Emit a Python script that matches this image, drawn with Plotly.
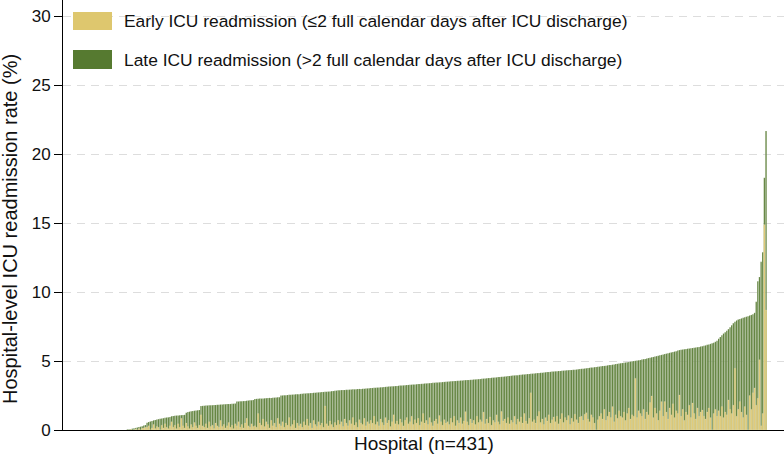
import plotly.graph_objects as go

# Hospital-level ICU readmission rate (%), hospitals sorted by total rate (n=431)
total_rate = [
    # hospitals 1-39 (no readmissions)
    0, 0, 0, 0, 0, 0, 0, 0, 0, 0, 0, 0, 0, 0, 0, 0, 0, 0, 0, 0,
    0, 0, 0, 0, 0, 0, 0, 0, 0, 0, 0, 0, 0, 0, 0, 0, 0, 0, 0,
    # 40-51
    0.05, 0.06, 0.08, 0.10, 0.12, 0.15, 0.18, 0.21, 0.24, 0.28, 0.32, 0.36,
    # 52-66
    0.53, 0.58, 0.62, 0.66, 0.70, 0.73, 0.76, 0.79, 0.82, 0.84, 0.86, 0.88, 0.90, 0.92, 0.94,
    # 67-75
    1.00, 1.02, 1.04, 1.05, 1.06, 1.07, 1.08, 1.09, 1.10,
    # 76-84
    1.25, 1.30, 1.33, 1.36, 1.38, 1.40, 1.42, 1.44, 1.45,
    # 85-106
    1.74, 1.75, 1.76, 1.77, 1.78, 1.79, 1.80, 1.80, 1.81, 1.82, 1.83, 1.84, 1.85, 1.85, 1.86,
    1.87, 1.88, 1.88, 1.89, 1.90, 1.91, 1.92,
    # 107-117
    2.06, 2.07, 2.08, 2.09, 2.10, 2.11, 2.12, 2.14, 2.15, 2.16, 2.18,
    # 118-133
    2.25, 2.26, 2.27, 2.28, 2.28, 2.29, 2.30, 2.31, 2.32, 2.33, 2.33, 2.34, 2.35, 2.36, 2.37, 2.38,
    # 134-145
    2.50, 2.51, 2.52, 2.53, 2.54, 2.55, 2.56, 2.57, 2.58, 2.59, 2.60, 2.60,
    # 146-169
    2.62, 2.63, 2.64, 2.65, 2.66, 2.67, 2.68, 2.69, 2.70, 2.71, 2.72, 2.73, 2.74, 2.75, 2.76,
    2.77, 2.78, 2.79, 2.80, 2.82, 2.83, 2.84, 2.86, 2.88,
    # 170-188
    2.89, 2.90, 2.90, 2.91, 2.92, 2.92, 2.93, 2.94, 2.95, 2.95, 2.96, 2.97, 2.98, 2.98, 2.99,
    3.00, 3.01, 3.02, 3.03,
    # 189-207
    3.04, 3.05, 3.06, 3.07, 3.08, 3.09, 3.10, 3.11, 3.12, 3.13, 3.14, 3.15, 3.16, 3.17, 3.18,
    3.19, 3.20, 3.21, 3.22,
    # 208-235
    3.23, 3.24, 3.25, 3.26, 3.27, 3.28, 3.29, 3.30, 3.31, 3.32, 3.33, 3.34, 3.35, 3.36, 3.37,
    3.38, 3.39, 3.40, 3.41, 3.42, 3.43, 3.44, 3.45, 3.46, 3.47, 3.48, 3.49, 3.50,
    # 236-256
    3.51, 3.52, 3.53, 3.54, 3.55, 3.56, 3.57, 3.58, 3.59, 3.60, 3.61, 3.62, 3.63, 3.63, 3.64,
    3.65, 3.66, 3.67, 3.68, 3.69, 3.70,
    # 257-274
    3.72, 3.73, 3.74, 3.75, 3.77, 3.78, 3.79, 3.80, 3.81, 3.82, 3.84, 3.85, 3.86, 3.87, 3.88,
    3.89, 3.91, 3.92,
    # 275-301
    3.94, 3.95, 3.96, 3.97, 3.98, 4.00, 4.01, 4.02, 4.03, 4.04, 4.06, 4.07, 4.08, 4.09, 4.10,
    4.12, 4.13, 4.14, 4.15, 4.16, 4.18, 4.19, 4.20, 4.21, 4.22, 4.24, 4.25,
    # 302-317
    4.26, 4.27, 4.28, 4.29, 4.30, 4.31, 4.32, 4.33, 4.34, 4.35, 4.36, 4.37, 4.38, 4.39, 4.40, 4.42,
    # 318-329
    4.44, 4.45, 4.47, 4.48, 4.50, 4.51, 4.53, 4.54, 4.56, 4.57, 4.59, 4.60,
    # 330-342
    4.62, 4.64, 4.65, 4.67, 4.69, 4.71, 4.72, 4.74, 4.76, 4.78, 4.80, 4.82, 4.84,
    # 343-354
    4.86, 4.88, 4.90, 4.92, 4.94, 4.96, 4.98, 5.00, 5.02, 5.04, 5.06, 5.08,
    # 355-367
    5.11, 5.14, 5.16, 5.19, 5.22, 5.25, 5.27, 5.30, 5.33, 5.36, 5.39, 5.42, 5.45,
    # 368-378
    5.48, 5.51, 5.54, 5.57, 5.60, 5.63, 5.66, 5.69, 5.72, 5.76, 5.80,
    # 379-391
    5.82, 5.84, 5.86, 5.88, 5.90, 5.91, 5.93, 5.95, 5.97, 5.99, 6.01, 6.03, 6.05,
    # 392-401
    6.08, 6.11, 6.14, 6.18, 6.21, 6.25, 6.29, 6.33, 6.40, 6.48,
    # 402-409
    6.62, 6.75, 6.88, 7.00, 7.10, 7.20, 7.32, 7.45,
    # 410-421
    7.60, 7.75, 7.86, 7.95, 8.02, 8.06, 8.10, 8.14, 8.18, 8.22, 8.26, 8.30,
    # 422-431
    8.35, 8.40, 8.50, 9.30, 10.80, 11.10, 12.20, 12.90, 18.30, 21.70,
]

early_rate = [
    # hospitals 1-39
    0, 0, 0, 0, 0, 0, 0, 0, 0, 0, 0, 0, 0, 0, 0, 0, 0, 0, 0, 0,
    0, 0, 0, 0, 0, 0, 0, 0, 0, 0, 0, 0, 0, 0, 0, 0, 0, 0, 0,
    # 40-51
    0, 0, 0.05, 0, 0, 0.08, 0, 0.10, 0, 0.12, 0.15, 0.20,
    # 52-66
    0.20, 0.30, 0, 0.15, 0.40, 0.10, 0.25, 0.20, 0, 0.35, 0.15, 0.45, 0.20, 0.10, 0.30,
    # 67-75
    0.60, 0.20, 0.35, 0.10, 0.45, 0.20, 0.85, 0.30, 0.15,
    # 76-84
    0.50, 0.25, 0.10, 0.40, 0.20, 0.55, 0.30, 0.15, 0.35,
    # 85-106
    1.10, 0.30, 0.20, 0.45, 0.15, 0.60, 0.25, 0.35, 0.10, 0.50, 0.30, 0.20, 0.70, 0.25, 0.40,
    0.15, 0.30, 0.55, 0.20, 0.35, 0.10, 0.45,
    # 107-117
    0.30, 0.60, 0.20, 0.40, 0.15, 0.50, 0.85, 0.30, 0.20, 0.45, 0.25,
    # 118-133
    0.30, 0.20, 1.20, 0.50, 0.35, 0.80, 0.25, 0.60, 0.40, 0.15, 0.70, 0.30, 0.50, 0.20, 0.85, 0.45,
    # 134-145
    0.30, 0.60, 0.20, 0.50, 0.35, 0.90, 0.25, 0.40, 0.70, 0.15, 0.50, 0.30,
    # 146-169
    0.45, 0.20, 0.60, 0.35, 0.80, 0.30, 0.50, 0.15, 0.70, 0.40, 0.25, 0.60, 0.35, 0.50, 0.20,
    1.75, 0.45, 0.30, 0.65, 0.40, 0.20, 0.55, 0.35, 0.70,
    # 170-188
    0.40, 0.60, 0.25, 0.80, 0.50, 0.30, 0.70, 0.45, 0.90, 0.35, 0.55, 0.20, 0.75, 0.50, 0.40,
    0.85, 0.30, 0.60, 0.45,
    # 189-207
    0.70, 0.50, 1.00, 0.40, 0.60, 0.30, 0.80, 0.55, 0.35, 0.90, 0.50, 0.70, 0.25, 0.60, 1.10,
    0.45, 0.65, 0.40, 0.80,
    # 208-235
    0.55, 0.30, 0.70, 0.90, 0.45, 0.60, 1.00, 0.40, 0.75, 0.50, 0.85, 0.35, 0.60, 1.20, 0.50,
    0.70, 0.40, 0.90, 0.55, 0.30, 0.65, 0.80, 0.45, 1.05, 0.60, 0.35, 0.75, 0.50,
    # 236-256
    0.60, 0.40, 0.85, 0.55, 1.00, 0.30, 0.70, 0.50, 0.90, 0.45, 0.65, 1.33, 0.60, 0.35, 0.80,
    0.50, 0.70, 0.40, 1.00, 0.55, 0.75,
    # 257-274
    0.60, 1.30, 0.45, 0.80, 0.50, 0.95, 0.35, 0.70, 0.55, 1.10, 0.60, 0.40, 1.35, 0.65, 0.80,
    0.50, 0.90, 0.45,
    # 275-301
    0.70, 0.55, 1.00, 0.40, 0.80, 0.60, 0.95, 0.50, 1.20, 0.65, 0.45, 0.85, 2.70, 0.60, 0.75,
    0.50, 1.00, 1.35, 0.55, 0.80, 0.40, 0.90, 0.65, 1.10, 0.50, 0.75, 0.95,
    # 302-317
    0.60, 1.00, 0.45, 0.80, 1.20, 0.55, 0.90, 0.70, 1.05, 0.40, 0.85, 0.60, 1.15, 0.75, 0.50, 0.95,
    # 318-329
    1.00, 0.70, 1.15, 1.25, 0.80, 0.60, 1.10, 0.90, 0.50, 0.00, 0.75, 1.00,
    # 330-342
    1.20, 0.80, 1.50, 0.70, 1.00, 1.30, 0.90, 1.70, 0.60, 1.10, 0.85, 1.40, 1.00,
    # 343-354
    0.90, 1.30, 0.70, 1.20, 1.60, 0.80, 1.10, 1.00, 3.75, 0.90, 1.40, 1.20,
    # 355-367
    1.00, 1.50, 0.80, 1.30, 1.10, 2.00, 2.47, 0.90, 1.60, 1.20, 0.70, 1.40, 2.06,
    # 368-378
    1.00, 2.06, 1.30, 0.80, 1.60, 1.10, 1.90, 0.90, 1.40, 1.20, 2.54,
    # 379-391
    1.00, 1.50, 0.70, 1.30, 1.10, 1.80, 0.90, 1.96, 1.20, 0.80, 1.60, 1.00, 1.30,
    # 392-401
    1.45, 1.00, 0.80, 1.30, 1.60, 0.90, 0.00, 1.20, 1.50, 1.00,
    # 402-409
    1.40, 1.00, 1.70, 0.90, 1.30, 1.10, 2.18, 1.50,
    # 410-421
    1.20, 1.80, 4.48, 1.00, 1.50, 2.06, 1.30, 0.90, 1.70, 1.10, 0.00, 2.50,
    # 422-431
    1.50, 2.70, 3.05, 1.80, 2.30, 5.10, 0.30, 1.20, 14.90, 8.70,
]

hospital = list(range(1, len(total_rate) + 1))

early_label = "Early ICU readmission (\u22642 full calendar days after ICU discharge)"
late_label = "Late ICU readmission (>2 full calendar days after ICU discharge)"
x_title = "Hospital (n=431)"
y_title = "Hospital-level ICU readmission rate (%)"
y_ticks = [0, 5, 10, 15, 20, 25, 30]

YELLOW = "#DEC76E"
GREEN = "#567A30"
FONT = "Liberation Sans, Arial, sans-serif"
BAR_EDGE = dict(width=0.3, color="rgba(255,255,255,0.55)")

fig = go.Figure()
fig.add_trace(go.Bar(x=hospital, y=total_rate, name=late_label,
                     marker=dict(color=GREEN, line=BAR_EDGE), showlegend=False))
fig.add_trace(go.Bar(x=hospital, y=early_rate, name=early_label,
                     marker=dict(color=YELLOW, line=BAR_EDGE), showlegend=False))

L, R, T, B = 63, 0, 0, 24
W, H = 784, 454
pw, ph = W - L - R, H - T - B

def px(xp):
    return (xp - L) / pw

def py(yp):
    return (H - B - yp) / ph

shapes = []
annotations = []
for (y0, y1, col, label) in [(12, 30, YELLOW, early_label), (50, 69, GREEN, late_label)]:
    shapes.append(dict(type="rect", xref="paper", yref="paper",
                       x0=px(73), x1=px(112), y0=py(y1), y1=py(y0),
                       fillcolor=col, line=dict(width=0)))
    annotations.append(dict(xref="paper", yref="paper", x=px(122), y=py((y0 + y1) / 2),
                            xanchor="left", yanchor="middle", showarrow=False,
                            text=label, font=dict(family=FONT, size=17.4, color="#111")))

annotations.append(dict(xref="paper", yref="paper", x=0.5, y=0, yanchor="top",
                        xanchor="center", yshift=-1, showarrow=False, text=x_title,
                        font=dict(family=FONT, size=19, color="#111")))
annotations.append(dict(xref="paper", yref="paper", x=0, y=py(229), xanchor="center",
                        yanchor="middle", xshift=-53, textangle=-90, showarrow=False,
                        text=y_title, font=dict(family=FONT, size=20, color="#111")))

fig.update_layout(
    width=W, height=H,
    margin=dict(l=L, r=R, t=T, b=B, pad=0),
    paper_bgcolor="white", plot_bgcolor="white",
    barmode="overlay", bargap=0.15,
    showlegend=False,
    shapes=shapes, annotations=annotations,
    font=dict(family=FONT, size=17, color="#111"),
)
fig.update_xaxes(range=[0.5, 442], showgrid=False, zeroline=False, showticklabels=False,
                 ticks="", showline=True, linecolor="black", linewidth=1)
fig.update_yaxes(range=[0, 31.2], tickvals=y_ticks, ticks="outside", ticklen=8,
                 tickcolor="black", showline=True, linecolor="black", linewidth=1,
                 showgrid=True, gridcolor="#DDDDDD", gridwidth=1, griddash="8px,6px",
                 zeroline=False, tickfont=dict(family=FONT, size=17, color="#111"))

fig.write_html("out.html")
